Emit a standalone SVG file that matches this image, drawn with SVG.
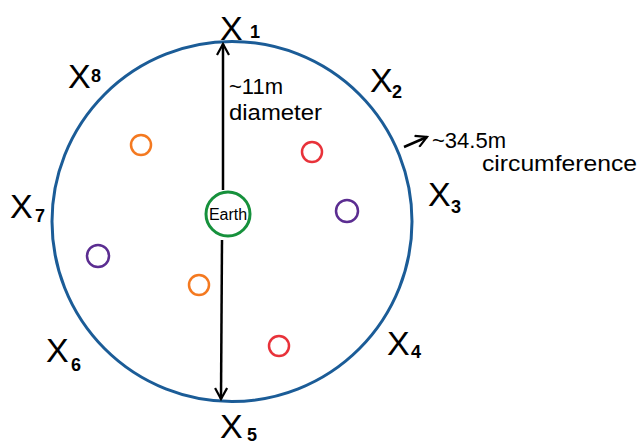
<svg xmlns="http://www.w3.org/2000/svg" width="640" height="447" viewBox="0 0 640 447">
<defs>
<style>
.lbl{font-family:"Liberation Sans","DejaVu Sans",sans-serif;fill:#000}
.x{font-size:34px}
.sub{font-size:18px;font-weight:bold}
.note{font-size:22px}
.ring{fill:none;stroke-width:2.5}
.line{stroke:#000;stroke-width:2.5;fill:none}
</style>
<marker id="ah" viewBox="0 0 14 14" refX="12" refY="7" markerWidth="14" markerHeight="14" markerUnits="userSpaceOnUse" orient="auto">
<path d="M1,1 L12,7 L1,13" fill="none" stroke="#000" stroke-width="2.2"/>
</marker>
</defs>
<rect width="640" height="447" fill="#fff"/>
<g id="orbit"><circle cx="232" cy="221.5" r="180" fill="none" stroke="#1b5c97" stroke-width="3"/></g>
<g id="connectors">
<line class="line" x1="223" y1="190" x2="223" y2="44" marker-end="url(#ah)"/>
<line class="line" x1="222" y1="240" x2="221" y2="399" marker-end="url(#ah)"/>
<line class="line" x1="404" y1="147" x2="427" y2="137" marker-end="url(#ah)" stroke-width="2"/>
</g>
<g id="earth"><circle cx="228" cy="214" r="22" fill="#fff" stroke="#16913c" stroke-width="3"/><text class="lbl" x="228" y="220" font-size="16" text-anchor="middle">Earth</text></g>
<g id="objects">
<circle class="ring" cx="141" cy="145" r="10" stroke="#f47920"/>
<circle class="ring" cx="312" cy="152" r="10" stroke="#e8323a" stroke-width="1.5"/>
<circle class="ring" cx="347" cy="211" r="11" stroke="#5b2d91" stroke-width="3"/>
<circle class="ring" cx="98" cy="256" r="11" stroke="#5b2d91" stroke-width="3"/>
<circle class="ring" cx="199" cy="285" r="10" stroke="#f47920" stroke-width="3"/>
<circle class="ring" cx="279" cy="346" r="10" stroke="#e8323a" stroke-width="1.5"/>
</g>
<g id="x1"><text class="lbl x" x="220" y="40">X</text><text class="lbl sub" x="250" y="38">1</text></g>
<g id="x2"><text class="lbl x" x="370" y="92">X</text><text class="lbl sub" x="392" y="98">2</text></g>
<g id="x3"><text class="lbl x" x="428" y="206">X</text><text class="lbl sub" x="451" y="213">3</text></g>
<g id="x4"><text class="lbl x" x="387" y="355">X</text><text class="lbl sub" x="411" y="358">4</text></g>
<g id="x5"><text class="lbl x" x="220" y="438">X</text><text class="lbl sub" x="247" y="441">5</text></g>
<g id="x6"><text class="lbl x" x="46" y="362">X</text><text class="lbl sub" x="71" y="371">6</text></g>
<g id="x7"><text class="lbl x" x="10" y="218">X</text><text class="lbl sub" x="35" y="222">7</text></g>
<g id="x8"><text class="lbl x" x="68" y="88">X</text><text class="lbl sub" x="91" y="82">8</text></g>
<g id="diam"><text class="lbl note" x="229" y="94">~11m</text><text class="lbl note" x="229" y="120" textLength="93" lengthAdjust="spacingAndGlyphs">diameter</text></g>
<g id="circ"><text class="lbl note" x="432" y="148">~34.5m</text><text class="lbl note" x="482" y="171" textLength="155" lengthAdjust="spacingAndGlyphs">circumference</text></g>
</svg>
